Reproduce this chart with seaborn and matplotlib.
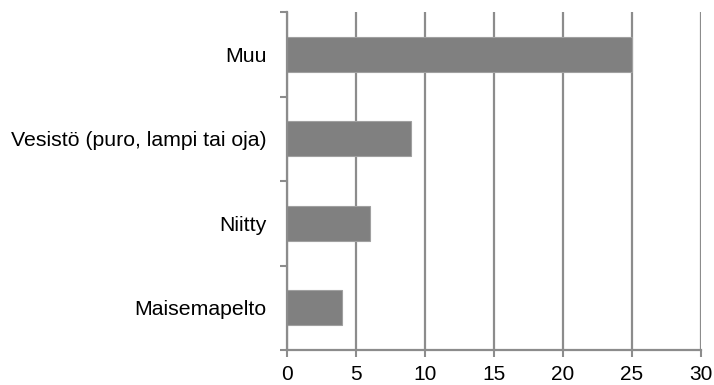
import matplotlib
matplotlib.use("Agg")
import matplotlib.pyplot as plt
import seaborn as sns
import pandas as pd

categories = ["Muu", "Vesistö (puro, lampi tai oja)", "Niitty", "Maisemapelto"]
values = [25, 9, 6, 4]
xticks = [0, 5, 10, 15, 20, 25, 30]

sns.set_style("white")
plt.rcParams['font.family'] = ['Liberation Sans', 'DejaVu Sans']

df = pd.DataFrame({"cat": categories, "val": values})
fig = plt.figure(figsize=(7.14, 3.85), dpi=100)
ax = fig.add_axes([287/714, 1-350/385, (701-287)/714, (350-12)/385])
sns.barplot(data=df, y="cat", x="val", ax=ax, color="#808080", width=0.41,
            edgecolor="#a0a0a0", linewidth=0.8, saturation=1, orient="h")
ax.set_xlim(0, 30)
ax.set_xticks(xticks)
ax.set_xticklabels([str(t) for t in xticks], fontsize=15, color="black")
ax.set_ylim(3.5, -0.5)
ax.set_yticks([-0.5, 0.5, 1.5, 2.5, 3.5], minor=False)
ax.set_yticklabels([])
ax.set_yticks(range(len(categories)), minor=True)
ax.set_yticklabels(categories, minor=True, fontsize=15.3, color="black")
ax.tick_params(axis='y', which='major', length=5, width=1.5, color="#8c8c8c", left=True)
ax.tick_params(axis='y', which='minor', length=0, pad=14.5)
ax.tick_params(axis='x', length=5, width=1.5, color="#8c8c8c", bottom=True, pad=5.5)
ax.set_xlabel("")
ax.set_ylabel("")
ax.xaxis.grid(True, color="#8c8c8c", linewidth=1.6)
ax.set_axisbelow(True)
for s in ["top", "right"]:
    ax.spines[s].set_visible(False)
for s in ["left", "bottom"]:
    ax.spines[s].set_color("#8c8c8c")
    ax.spines[s].set_linewidth(1.6)
fig.savefig("out.png", dpi=100)
